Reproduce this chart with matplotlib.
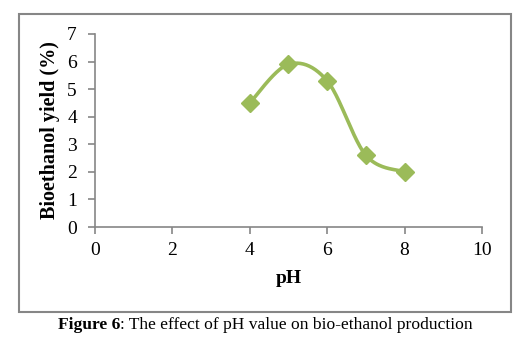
import numpy as np
import matplotlib
matplotlib.use("Agg")
import matplotlib.pyplot as plt
from matplotlib.patches import Rectangle

ph = [4, 5, 6, 7, 8]
yield_pct = [4.5, 5.9, 5.3, 2.6, 2.0]
xticks = [0, 2, 4, 6, 8, 10]
yticks = [0, 1, 2, 3, 4, 5, 6, 7]

plt.rcParams['font.family'] = ['Liberation Serif', 'DejaVu Serif']

def smooth(xs, ys, n=40):
    # Excel-like smoothing: cubic Bezier with Catmull-Rom control points
    xs = np.asarray(xs, float); ys = np.asarray(ys, float)
    px, py = [], []
    m = len(xs)
    for i in range(m - 1):
        p0 = np.array([xs[max(i - 1, 0)], ys[max(i - 1, 0)]])
        p1 = np.array([xs[i], ys[i]])
        p2 = np.array([xs[i + 1], ys[i + 1]])
        p3 = np.array([xs[min(i + 2, m - 1)], ys[min(i + 2, m - 1)]])
        c1 = p1 + (p2 - p0) / 6.0
        c2 = p2 - (p3 - p1) / 6.0
        t = np.linspace(0, 1, n)[:, None]
        b = ((1 - t) ** 3) * p1 + 3 * ((1 - t) ** 2) * t * c1 + 3 * (1 - t) * t ** 2 * c2 + t ** 3 * p2
        px.extend(b[:, 0]); py.extend(b[:, 1])
    return np.array(px), np.array(py)

fig = plt.figure(figsize=(5.23, 3.6), dpi=100)
fig.patches.append(Rectangle((0.036, 0.133), 0.941, 0.828, transform=fig.transFigure,
                             fill=False, edgecolor='#868686', linewidth=1.5))

ax = fig.add_axes([0.1816, 0.3694, 0.74, 0.5362])
green = '#9BBB59'
sx, sy = smooth(ph, yield_pct)
ax.plot(sx, sy, color=green, linewidth=2.6, zorder=2)
ax.plot(ph, yield_pct, linestyle='none', marker='D', markersize=9, color=green, zorder=3)

ax.set_xlim(0, 10)
ax.set_ylim(0, 7)
ax.set_xticks(xticks)
ax.set_yticks(yticks)
for s in ['top', 'right']:
    ax.spines[s].set_visible(False)
for s in ['left', 'bottom']:
    ax.spines[s].set_color('#868686')
    ax.spines[s].set_linewidth(1.2)
ax.tick_params(axis='both', direction='out', length=5, width=1.2, color='#868686',
               labelsize=14, labelcolor='black')
ax.tick_params(axis='x', pad=6)
ax.tick_params(axis='y', pad=8)
ax.set_xlabel('pH', fontsize=14, fontweight='bold', labelpad=8)
ax.set_ylabel('Bioethanol yield (%)', fontsize=14.5, fontweight='bold', labelpad=5)

t1 = fig.text(0.111, 0.098, 'Figure 6', fontsize=12.6, fontweight='bold', va='center', ha='left')
fig.canvas.draw()
t2 = ax.annotate(': The effect of pH value on bio-ethanol production', xy=(1, 0.5), xycoords=t1,
                 fontsize=12.6, va='center', ha='left', annotation_clip=False)

fig.savefig('out.png', dpi=100)
